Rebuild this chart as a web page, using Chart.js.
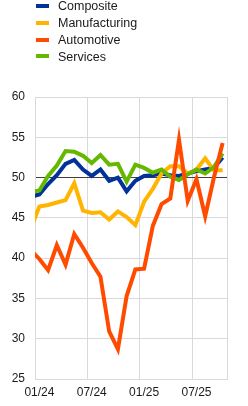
<!DOCTYPE html>
<html><head><meta charset="utf-8">
<script src="https://cdn.jsdelivr.net/npm/chart.js@4.4.0/dist/chart.umd.min.js"></script>
<style>html,body{margin:0;padding:0;background:#fff;overflow:hidden}#wrap{width:248px;height:406px;position:relative}</style>
</head><body><div id="wrap"><canvas id="c"></canvas></div>
<script>
// Monthly, 12/23 .. 10/25 (first point lies just left of the plot and is clipped)
const months = ['12/23','01/24','02/24','03/24','04/24','05/24','06/24','07/24','08/24','09/24','10/24','11/24','12/24',
                '01/25','02/25','03/25','04/25','05/25','06/25','07/25','08/25','09/25','10/25'];
const composite     = [47.6,47.9,49.2,50.3,51.7,52.2,51.0,50.2,51.0,49.6,50.0,48.3,49.6,50.2,50.3,50.5,50.3,50.2,50.5,50.8,51.0,51.2,52.5];
const manufacturing = [43.6,46.4,46.6,46.9,47.2,49.3,45.9,45.6,45.7,44.8,45.8,45.1,44.1,47.0,48.6,50.5,51.4,51.4,50.5,51.0,52.4,50.9,50.9];
const automotive    = [41.0,39.9,38.5,41.6,39.2,43.0,41.3,39.4,37.7,30.9,28.7,35.3,38.6,38.7,44.0,46.7,47.4,54.7,47.1,49.8,45.2,50.0,54.3];
const services      = [48.2,48.4,50.2,51.5,53.3,53.2,52.7,51.8,52.8,51.6,51.7,49.5,51.6,51.2,50.6,51.0,50.1,49.7,50.4,51.0,50.5,51.3,53.0];
const seriesNames  = ['Composite','Manufacturing','Automotive','Services'];
const seriesColors = ['#003299','#ffb400','#ff4b00','#65b800'];
const yTicks = [25,30,35,40,45,50,55,60];
const xTickLabels = ['01/24','07/24','01/25','07/25'];
const xTickPositions = [-0.5,5.5,11.5,17.5,21.5];

const allSeries = [composite, manufacturing, automotive, services];
const drawOrder = [3,2,0,1]; // lower = on top
const toPts = arr => arr.map((v,i)=>({x:i-1,y:v}));

const FONT = '"Liberation Sans", Arial, sans-serif';
const TEXT = '#1a1a1a';

const legendPlugin = {
  id:'vlegend',
  afterDraw(chart){
    const ctx = chart.ctx;
    ctx.save();
    ctx.font = '12.5px ' + FONT;
    ctx.textBaseline = 'middle';
    ctx.textAlign = 'left';
    seriesNames.forEach((n,i)=>{
      const y = 6 + i*16.8;
      ctx.fillStyle = seriesColors[i];
      ctx.fillRect(36, Math.round(y-2), 13, 4);
      ctx.fillStyle = TEXT;
      ctx.fillText(n, 58, y+1);
    });
    ctx.restore();
  }
};

new Chart(document.getElementById('c'), {
  type:'line',
  data:{
    datasets: allSeries.map((s,i)=>({
      label: seriesNames[i],
      data: toPts(s),
      borderColor: seriesColors[i],
      backgroundColor: seriesColors[i],
      borderWidth: 4,
      pointRadius: 0,
      tension: 0,
      clip: 0,
      order: drawOrder[i]
    }))
  },
  options:{
    responsive:true, maintainAspectRatio:false, animation:false,
    layout:{padding:{top:97,right:21,bottom:0,left:0}},
    plugins:{legend:{display:false}, tooltip:{enabled:false}},
    scales:{
      x:{
        type:'linear', min:-0.5, max:21.5,
        afterBuildTicks: sc => { sc.ticks = xTickPositions.map(v=>({value:v})); },
        afterFit: sc => { sc.height = 27; },
        grid:{color:'#d9d9d9', lineWidth:1, drawTicks:false},
        border:{display:true, color:'#d9d9d9'},
        ticks:{
          autoSkip:false, maxRotation:0, padding:6, labelOffset:4.4,
          color:TEXT, font:{family:FONT, size:12},
          callback:(v,i)=> xTickLabels[i] !== undefined ? xTickLabels[i] : ''
        }
      },
      y:{
        min:25, max:60,
        afterBuildTicks: sc => { sc.ticks = yTicks.map(v=>({value:v})); },
        afterFit: sc => { sc.width = 35; },
        grid:{color: c => (c.tick && c.tick.value === 50) ? '#404040' : '#d9d9d9', lineWidth:1, drawTicks:false},
        border:{display:true, color:'#d9d9d9'},
        ticks:{padding:10, color:TEXT, font:{family:FONT, size:12}}
      }
    }
  },
  plugins:[legendPlugin]
});
</script></body></html>
